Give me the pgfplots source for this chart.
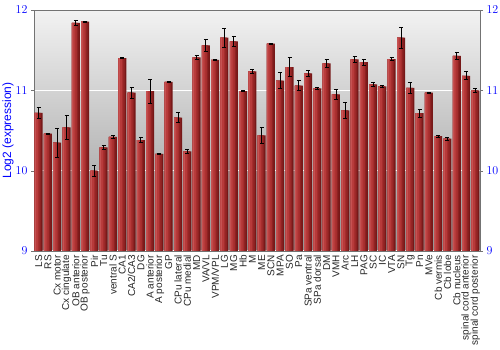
\documentclass[border=0pt]{standalone}
\usepackage{pgfplots}
\pgfplotsset{compat=1.18}
\usepackage{pgfplotstable}
\usepackage{fontspec}
\setmainfont{Liberation Sans}
\definecolor{tickblue}{HTML}{0000FF}
\definecolor{barA}{HTML}{761818}
\definecolor{barB}{HTML}{8E2222}
\definecolor{barC}{HTML}{A52D2D}
\definecolor{barD}{HTML}{B73A3A}
\definecolor{barE}{HTML}{C65252}
\pgfplotstableread[col sep=comma]{
name,y,e
LS,10.72,0.07
RS,10.46,0.01
Cx motor,10.35,0.18
Cx cingulate,10.54,0.15
OB anterior,11.84,0.03
OB posterior,11.855,0.005
Pir,10.0,0.07
Tu,10.29,0.02
ventral S,10.42,0.02
CA1,11.40,0.005
CA2/CA3,10.97,0.065
DG,10.38,0.03
A anterior,10.99,0.15
A posterior,10.21,0.005
GP,11.105,0.01
CPu lateral,10.66,0.06
CPu medial,10.24,0.02
MD,11.41,0.025
VA/VL,11.56,0.07
VPM/VPL,11.38,0.005
LG,11.655,0.115
MG,11.61,0.06
Hb,10.99,0.005
M,11.235,0.02
ME,10.44,0.095
SCN,11.58,0.005
MPA,11.12,0.1
SO,11.29,0.115
Pa,11.06,0.065
SPa ventral,11.21,0.04
SPa dorsal,11.025,0.015
DM,11.335,0.055
VMH,10.95,0.06
Arc,10.75,0.1
LH,11.385,0.04
PAG,11.35,0.04
SC,11.075,0.025
IC,11.05,0.01
VTA,11.39,0.02
SN,11.655,0.13
Tg,11.03,0.07
Pn,10.715,0.05
MVe,10.97,0.01
Cb vermis,10.43,0.01
Cb lobe,10.40,0.02
Cb nucleus,11.43,0.04
spinal cord anterior,11.18,0.05
spinal cord posterior,11.0,0.02
}\data
\begin{document}
\begin{tikzpicture}
\begin{axis}[
  at={(0,0)}, anchor=south west,
  scale only axis, width=446pt, height=241pt,
  xmin=-0.5, xmax=47.5, ymin=9, ymax=12,
  axis background/.style={shade, top color=black!5, bottom color=black!42},
  axis line style={black!55},
  ytick={9,10,11,12},
  ytick pos=left,
  tick align=outside,
  major tick length=3pt,
  ytick style={black!55},
  yticklabel style={font=\fontsize{12}{12}\selectfont, text=tickblue},
  ymajorgrids, major grid style={white, line width=1pt},
  xtick=data,
  xticklabels from table={\data}{name},
  xtick style={draw=none},
  xticklabel style={rotate=90, anchor=east, font=\fontsize{10}{10}\selectfont, text=black!85, inner sep=1pt},
  ylabel={Log2 (expression)},
  every axis y label/.style={at={(axis description cs:-0.058,0.5)}, rotate=90, anchor=center, font=\fontsize{12}{12}\selectfont, text=tickblue},
  ybar,
]
\addplot[draw=none, fill=barA, bar width=8pt, bar shift=0pt]
  table[x expr=\coordindex, y=y]{\data};
\addplot[draw=none, fill=barB, bar width=6.5pt, bar shift=-0.75pt]
  table[x expr=\coordindex, y=y]{\data};
\addplot[draw=none, fill=barC, bar width=5pt, bar shift=-1.5pt]
  table[x expr=\coordindex, y=y]{\data};
\addplot[draw=none, fill=barD, bar width=3.5pt, bar shift=-2.25pt]
  table[x expr=\coordindex, y=y]{\data};
\addplot[draw=none, fill=barE, bar width=1.5pt, bar shift=-3.25pt]
  table[x expr=\coordindex, y=y]{\data};
\addplot[draw=none, fill=none, bar width=8pt, bar shift=0pt,
  error bars/.cd, y dir=both, y explicit, error mark=-, error bar style={black, line width=0.8pt},
  error mark options={black, line width=0.8pt, mark size=2pt, rotate=90}]
  table[x expr=\coordindex, y=y, y error=e]{\data};
\end{axis}
\begin{axis}[
  at={(0,0)}, anchor=south west,
  scale only axis, width=446pt, height=241pt,
  xmin=-0.5, xmax=47.5, ymin=9, ymax=12,
  axis line style={draw=none},
  ytick={9,10,11,12},
  ytick pos=right, yticklabel pos=right,
  tick align=outside,
  major tick length=3pt,
  ytick style={black!55},
  yticklabel style={font=\fontsize{12}{12}\selectfont, text=tickblue},
  xtick=\empty,
]
\end{axis}
\draw[black!55] (0,241pt) -- (446pt,241pt);
\draw[black!55] (446pt,0) -- (446pt,241pt);
\pgfresetboundingbox
\path[use as bounding box] (-34pt,-99pt) rectangle (466pt,251pt);
\end{tikzpicture}
\end{document}
